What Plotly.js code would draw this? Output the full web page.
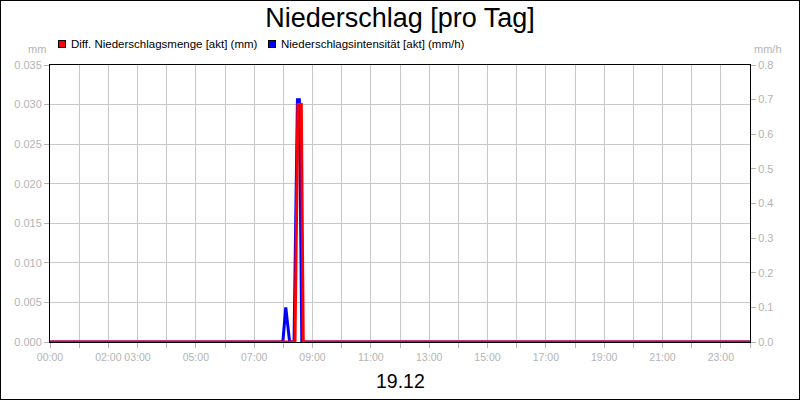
<!DOCTYPE html>
<html>
<head>
<meta charset="utf-8">
<script src="https://cdn.plot.ly/plotly-3.0.1.min.js"></script>
<style>
  html, body { margin: 0; padding: 0; background: #fff; }
  #wrap { position: relative; width: 800px; height: 400px; }
  #chart { position: absolute; left: 0; top: 0; width: 800px; height: 400px; }
  #frame { position: absolute; left: 0; top: 0; width: 800px; height: 400px; box-sizing: border-box; border: 1px solid #000; pointer-events: none; }
</style>
</head>
<body>
<div id="wrap"><div id="chart"></div><div id="frame"></div></div>
<script>
// ---- data (day 19.12) ----
const amountTimes = ["00:00", "08:24", "08:30", "08:37", "08:41", "24:00"];
const amountValues = [0, 0, 0.030, 0.030, 0, 0];            // mm (left axis)

const intensityTimes = ["00:00", "07:59", "08:05", "08:13", "08:22", "08:29", "08:33", "08:38", "24:00"];
const intensityValues = [0, 0, 0.1, 0, 0, 0.7, 0.7, 0, 0];  // mm/h (right axis)

const hourTicks = [0,1,2,3,4,5,6,7,8,9,10,11,12,13,14,15,16,17,18,19,20,21,22,23,24];
const hourLabels = ["00:00","","02:00","03:00","","05:00","","07:00","","09:00","","11:00","","13:00","","15:00","","17:00","","19:00","","21:00","","23:00",""];

const seriesNames = ["Diff. Niederschlagsmenge [akt] (mm)", "Niederschlagsintensität [akt] (mm/h)"];
const seriesColors = ["#ff0000", "#0000ff"];
const chartTitle = "Niederschlag [pro Tag]";
const dayLabel = "19.12";

function toHours(s) { const p = s.split(":"); return (+p[0]) + (+p[1]) / 60; }

const FONT = "Liberation Sans, Arial, sans-serif";
const GREY = "#b4b4b4";

// intensity on the base subplot (right axis), amount on the overlaying subplot (left axis) so red is drawn on top
const traces = [
  { type: "scatter", mode: "lines", x: intensityTimes.map(toHours), y: intensityValues, name: seriesNames[1],
    yaxis: "y", line: { color: seriesColors[1], width: 3 }, showlegend: false, hoverinfo: "skip" },
  { type: "scatter", mode: "lines", x: amountTimes.map(toHours), y: amountValues, name: seriesNames[0],
    yaxis: "y2", line: { color: seriesColors[0], width: 3 }, showlegend: false, hoverinfo: "skip" }
];

// legend drawn as annotations (swatch + label), placed relative to the plot's left edge
const legendX = [8, 218];
const legendAnn = [];
seriesNames.forEach((nm, i) => {
  legendAnn.push({ text: " ", xref: "paper", yref: "paper", x: 0, y: 1, xanchor: "left", yanchor: "middle",
    xshift: legendX[i], yshift: 21, showarrow: false, width: 6, height: 6, borderpad: 0,
    bgcolor: seriesColors[i], bordercolor: "#000", borderwidth: 1, font: { size: 4 } });
  legendAnn.push({ text: nm, xref: "paper", yref: "paper", x: 0, y: 1, xanchor: "left", yanchor: "middle",
    xshift: legendX[i] + 11, yshift: 21, showarrow: false, font: { family: FONT, size: 11.5, color: "#000" } });
});

const layout = {
  width: 800, height: 400,
  margin: { l: 50, r: 50, t: 65, b: 58 },
  paper_bgcolor: "#fff", plot_bgcolor: "#fff",
  font: { family: FONT, size: 11, color: "#000" },
  title: { text: chartTitle, font: { family: FONT, size: 27, color: "#000" },
           x: 0.5, xanchor: "center", y: 0.955, yanchor: "middle", yref: "container" },
  showlegend: false,
  xaxis: {
    range: [0, 24], tickmode: "array", tickvals: hourTicks, ticktext: hourLabels, tickangle: 0,
    showgrid: true, gridcolor: "#c8c8c8", gridwidth: 1,
    ticks: "outside", ticklen: 5, tickcolor: GREY,
    tickfont: { family: FONT, size: 10.5, color: GREY },
    showline: true, linecolor: "#000", linewidth: 1, mirror: true, zeroline: false,
    fixedrange: true
  },
  yaxis: {
    side: "right", range: [0, 0.8], dtick: 0.1, tick0: 0, tickformat: ".1f",
    showgrid: false, ticks: "outside", ticklen: 5, tickcolor: GREY,
    tickfont: { family: FONT, size: 11, color: GREY },
    showline: true, linecolor: "#000", linewidth: 1, zeroline: false
  },
  yaxis2: {
    overlaying: "y", side: "left", range: [0, 0.035], dtick: 0.005, tick0: 0, tickformat: ".3f",
    showgrid: true, gridcolor: "#c8c8c8", gridwidth: 1,
    ticks: "outside", ticklen: 5, tickcolor: GREY,
    tickfont: { family: FONT, size: 11, color: GREY },
    showline: true, linecolor: "#000", linewidth: 1, zeroline: false
  },
  annotations: legendAnn.concat([
    { text: "mm", xref: "paper", yref: "paper", x: 0, y: 1, xanchor: "right", yanchor: "middle",
      xshift: -2, yshift: 16, showarrow: false, font: { family: FONT, size: 11, color: GREY } },
    { text: "mm/h", xref: "paper", yref: "paper", x: 1, y: 1, xanchor: "left", yanchor: "middle",
      xshift: 2, yshift: 16, showarrow: false, font: { family: FONT, size: 11, color: GREY } },
    { text: dayLabel, xref: "paper", yref: "paper", x: 0.5, y: -0.1408, xanchor: "center", yanchor: "middle",
      showarrow: false, font: { family: FONT, size: 19.5, color: "#000" } }
  ])
};

Plotly.newPlot("chart", traces, layout, { staticPlot: true, displayModeBar: false });
</script>
</body>
</html>
